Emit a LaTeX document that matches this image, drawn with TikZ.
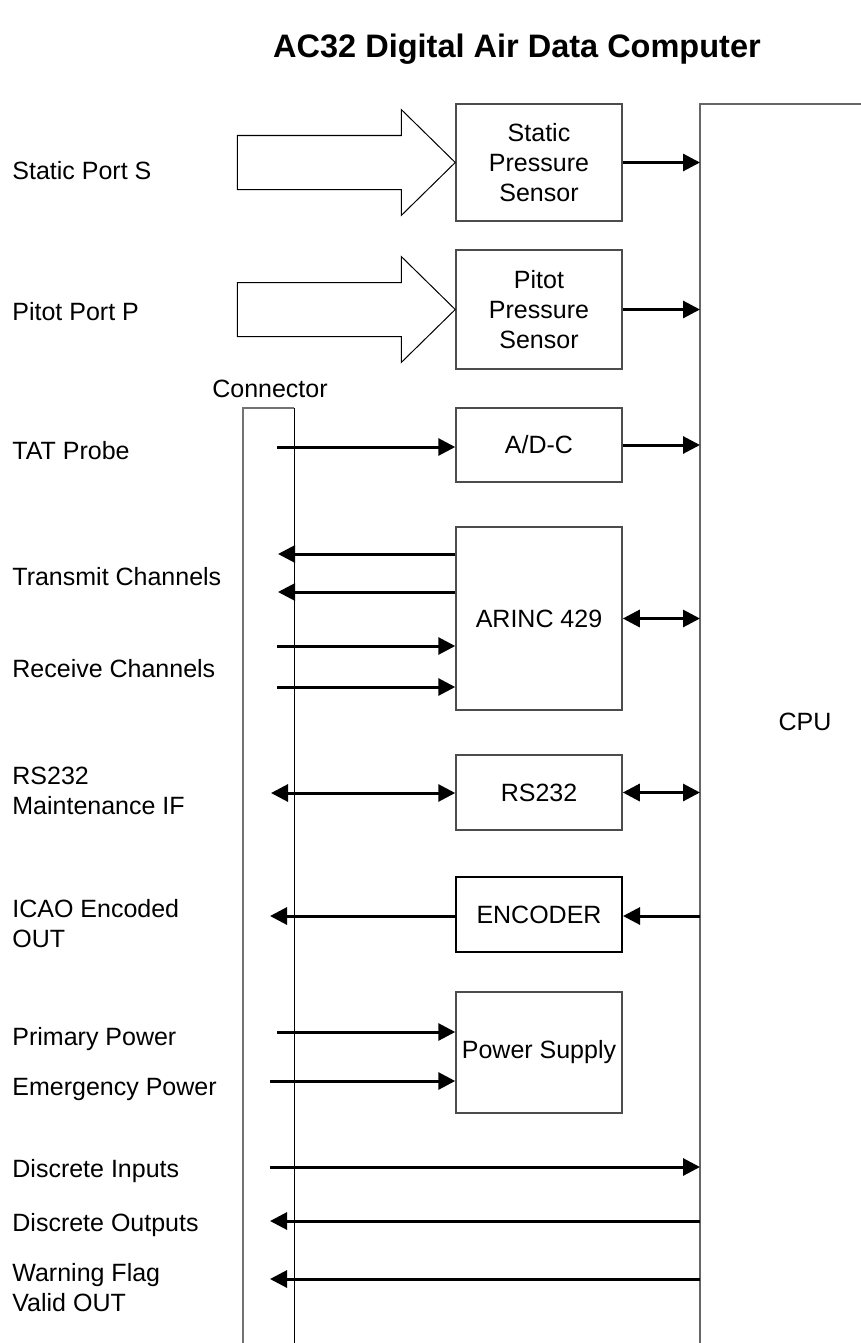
\documentclass[tikz,border=0pt]{standalone}
\usepackage{fontspec}
\setmainfont{Liberation Sans}
\usetikzlibrary{arrows.meta,math}

\begin{document}
\begin{tikzpicture}[x=0.5pt,y=-0.5pt,
  >={Triangle[length=8.5pt,width=8.5pt]},
  txt/.style={font=\fontsize{12.5}{15}\selectfont},
  lbl/.style={txt,anchor=base west,inner sep=0},
  lbl2/.style={txt,anchor=west,align=left,inner sep=0},
  blk/.style={txt,draw=black!70,line width=0.75pt,minimum width=83pt,inner sep=0,align=center},
  sig/.style={line width=1.5pt},
  port/.style={line width=0.5pt}]
\tikzmath{
\xl=12;
\xb=539;
\xc=700;
}
\useasboundingbox (0,0) rectangle (861,1343);
%title
\node[font=\fontsize{16.25}{19}\selectfont\bfseries,anchor=base] (title) at (517,58) {AC32 Digital Air Data Computer};

%cpu and connector
\draw[draw=black!60,line width=1pt] (\xc,1343) |- (861,104);
\coordinate (cpu) at (\xc,104);
\node[txt] (cpulbl) at (805,722) {CPU};
\draw[draw=black!55,line width=1pt] (243,1343) |- (294,408) coordinate (conn);
\draw[line width=0.5pt] (conn) -- (294,1343);
\node[txt,anchor=base] (connlbl) at (270,397) {Connector};

%blocks
\node[blk,minimum height=58.5pt] (static) at (\xb,162.5) {Static\\Pressure\\Sensor};
\node[blk,minimum height=59.5pt] (pitot) at (\xb,309.5) {Pitot\\Pressure\\Sensor};
\node[blk,minimum height=37pt] (adc) at (\xb,445) {A/D-C};
\node[blk,minimum height=91.5pt] (arinc) at (\xb,618.5) {ARINC 429};
\node[blk,minimum height=37.5pt] (rs) at (\xb,792.5) {RS232};
\node[blk,draw=black,line width=1pt,minimum height=37.5pt] (enc) at (\xb,914.5) {ENCODER};
\node[blk,minimum height=60.5pt] (psu) at (\xb,1052.5) {Power Supply};

%labels
\node[lbl] (lstatic) at (\xl,179) {Static Port S};
\node[lbl] (lpitot) at (\xl,320) {Pitot Port P};
\node[lbl] (ltat) at (\xl,459) {TAT Probe};
\node[lbl] (ltx) at (\xl,585) {Transmit Channels};
\node[lbl] (lrx) at (\xl,677) {Receive Channels};
\node[lbl2] (lrs) at (\xl,791) {RS232\\Maintenance IF};
\node[lbl2] (licao) at (\xl,923.5) {ICAO Encoded\\OUT};
\node[lbl] (lpri) at (\xl,1045) {Primary Power};
\node[lbl] (lemg) at (\xl,1095) {Emergency Power};
\node[lbl] (ldin) at (\xl,1177) {Discrete Inputs};
\node[lbl] (ldout) at (\xl,1231) {Discrete Outputs};
\node[lbl2] (lwarn) at (\xl,1288) {Warning Flag\\Valid OUT};

%ports
\foreach \s in {static,pitot}{
  \draw[port] (\s.west) -- ++(-54,-53) -- ++(0,26) -- ++(-164,0) -- ++(0,54) -- ++(164,0) -- ++(0,26) -- cycle;
}

%signals
\coordinate (tat) at (277,447);
\draw[sig,->] (static.east) -- (static.east -| cpu);
\draw[sig,->] (pitot.east) -- (pitot.east -| cpu);
\draw[sig,->] (tat) -- (tat -| adc.west);
\draw[sig,->] (adc.east) -- (adc.east -| cpu);
\foreach \i/\y in {1/554,2/592}{
  \coordinate (tx\i) at (278,\y);
  \draw[sig,->] (tx\i -| arinc.west) -- (tx\i);
}
\foreach \i/\y in {1/646,2/687}{
  \coordinate (rx\i) at (277,\y);
  \draw[sig,->] (rx\i) -- (rx\i -| arinc.west);
}
\draw[sig,<->] (arinc.east) -- (arinc.east -| cpu);
\coordinate (rsio) at (271,793);
\draw[sig,<->] (rsio) -- (rsio -| rs.west);
\draw[sig,<->] (rs.east) -- (rs.east -| cpu);
\coordinate (icao) at (270,916);
\draw[sig,->] (icao -| cpu) -- (icao -| enc.east);
\draw[sig,->] (icao -| enc.west) -- (icao);
\foreach \i/\x/\y in {1/277/1032,2/270/1081}{
  \coordinate (pwr\i) at (\x,\y);
  \draw[sig,->] (pwr\i) -- (pwr\i -| psu.west);
}
\coordinate (din) at (270,1167);
\coordinate (dout) at (270,1221);
\coordinate (wflag) at (270,1279);
\draw[sig,->] (din) -- (din -| cpu);
\draw[sig,->] (dout -| cpu) -- (dout);
\draw[sig,->] (wflag -| cpu) -- (wflag);
\end{tikzpicture}
\end{document}
